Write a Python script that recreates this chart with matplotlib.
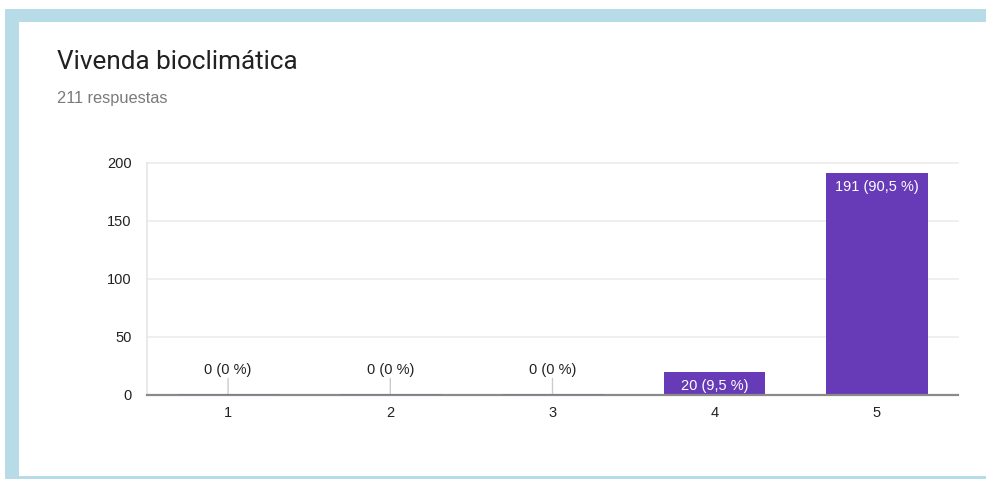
import matplotlib
matplotlib.use("Agg")
import matplotlib.pyplot as plt
from matplotlib.patches import Rectangle

categories = ["1", "2", "3", "4", "5"]
counts = [0, 0, 0, 20, 191]
percents = ["0 %", "0 %", "0 %", "9,5 %", "90,5 %"]
yticks = [0, 50, 100, 150, 200]
title = "Vivenda bioclimática"
subtitle = "211 respuestas"

W, H = 987, 479
fig = plt.figure(figsize=(W / 100, H / 100), dpi=100)
fig.patch.set_facecolor("white")

def px(x0, y0, w, h):
    return (x0 / W, 1 - (y0 + h) / H, w / W, h / H)

frame_col = "#b7dce7"
for (x0, y0, w, h) in [(5, 9, 982, 13), (5, 9, 14, 467), (5, 476, 982, 3)]:
    fx, fy, fw, fh = px(x0, y0, w, h)
    fig.patches.append(Rectangle((fx, fy), fw, fh, transform=fig.transFigure,
                                 facecolor=frame_col, edgecolor="none"))

fig.text(57 / W, 1 - 62 / H, title, fontsize=18.8, family=["Roboto", "DejaVu Sans"],
         color="#212121", va="center", ha="left")
fig.text(57 / W, 1 - 99 / H, subtitle, fontsize=11.8, family=["Liberation Sans", "DejaVu Sans"],
         color="#7a7a7a", va="center", ha="left")

ax = fig.add_axes(px(147, 163, 811, 232))
ax.set_facecolor("none")
xs = list(range(1, len(categories) + 1))
purple = "#673ab7"
bw = 0.625
ax.bar(xs, counts, width=bw, color=purple, zorder=3)
ax.set_xlim(0.5, len(categories) + 0.5)
ax.set_ylim(0, 200)
ax.set_yticks(yticks)
ax.set_xticks(xs)
ax.set_xticklabels(categories)
ax.yaxis.grid(True, color="#ececec", linewidth=1.2, zorder=0)
for gl in ax.get_ygridlines():
    gl.set_clip_on(False)
for s in ["top", "right"]:
    ax.spines[s].set_visible(False)
ax.spines["left"].set_color("#e6e6e6")
ax.spines["left"].set_linewidth(1.2)
ax.spines["bottom"].set_color("#8a8a8a")
ax.spines["bottom"].set_linewidth(1.6)
ax.spines["bottom"].set_zorder(4)
ax.tick_params(axis="both", length=0, labelsize=10.5, colors="#222222")
ax.tick_params(axis="y", pad=11)
ax.tick_params(axis="x", pad=8)
for lab in ax.get_xticklabels() + ax.get_yticklabels():
    lab.set_family(["Liberation Sans", "DejaVu Sans"])

for x, c, p in zip(xs, counts, percents):
    label = f"{c} ({p})"
    if c == 0:
        ax.hlines(c, x - bw / 2, x + bw / 2, colors="#7f7a90", linewidth=2, zorder=5)
        ax.annotate("", xy=(x, c), xytext=(0, 12), textcoords="offset points",
                    arrowprops=dict(arrowstyle="-", color="#cccccc", lw=1,
                                    shrinkA=0, shrinkB=1), zorder=2)
        ax.annotate(label, xy=(x, c), xytext=(0, 13), textcoords="offset points",
                    ha="center", va="bottom", fontsize=10.5, color="#222222",
                    family=["Liberation Sans", "DejaVu Sans"])
    else:
        ax.annotate(label, xy=(x, c), xytext=(0, -5), textcoords="offset points",
                    ha="center", va="top", fontsize=10.5, color="white",
                    family=["Liberation Sans", "DejaVu Sans"], zorder=6)

fig.savefig("out.png", dpi=100, facecolor="white")
